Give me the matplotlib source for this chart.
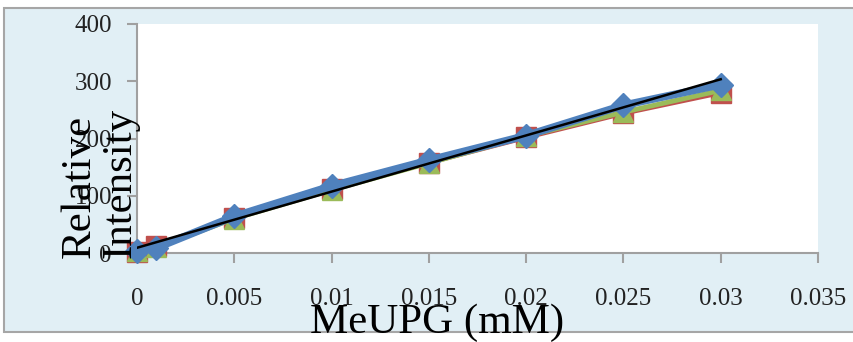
import matplotlib
matplotlib.use("Agg")
import matplotlib.pyplot as plt
import numpy as np
from matplotlib.patches import Rectangle

# MeUPG concentration (mM) and relative intensity of three replicate runs
conc = [0, 0.001, 0.005, 0.01, 0.015, 0.02, 0.025, 0.03]
run_red = [2, 12, 62, 112, 158, 202, 244, 280]
run_green = [3, 10, 60, 110, 157, 204, 246, 284]
run_blue = [4, 9, 64, 117, 162, 205, 258, 294]

x_ticks = [0, 0.005, 0.01, 0.015, 0.02, 0.025, 0.03, 0.035]
x_tick_labels = ["0", "0.005", "0.01", "0.015", "0.02", "0.025", "0.03", "0.035"]
y_ticks = [0, 100, 200, 300, 400]

plt.rcParams["font.family"] = ["Liberation Serif", "DejaVu Serif"]

fig = plt.figure(figsize=(8.54, 3.42), dpi=100)
fig.patch.set_facecolor("white")

# light blue chart area with grey border
fig.patches.append(Rectangle((4 / 854, 1 - 332 / 342), 1.0, (332 - 8) / 342,
                             transform=fig.transFigure, facecolor="#E1EFF5",
                             edgecolor="#A6A6A6", linewidth=1.5, zorder=-1))

ax = fig.add_axes([137 / 854, 1 - 253 / 342, (818 - 137) / 854, (253 - 24) / 342])
ax.set_facecolor("white")

ax.plot(conc, run_red, color="#C0504D", lw=3.5, marker="s", ms=14,
        zorder=3, clip_on=False)
ax.plot(conc, run_green, color="#9BBB59", lw=3.5, marker="^", ms=15,
        zorder=4, clip_on=False)
ax.plot(conc, run_blue, color="#4F81BD", lw=5.5, marker="D", ms=12,
        zorder=5, clip_on=False)

# linear trendline
slope, intercept = np.polyfit(conc, run_blue, 1)
fit_x = np.array([conc[0], conc[-1]])
ax.plot(fit_x, slope * fit_x + intercept, color="black", lw=1.8, zorder=6)

ax.set_xlim(0, 0.035)
ax.set_ylim(0, 400)
ax.set_xticks(x_ticks)
ax.set_xticklabels(x_tick_labels)
ax.set_yticks(y_ticks)

for s in ["top", "right"]:
    ax.spines[s].set_visible(False)
for s in ["left", "bottom"]:
    ax.spines[s].set_color("#A0A0A0")
    ax.spines[s].set_linewidth(1.5)

ax.tick_params(axis="both", colors="#A0A0A0", labelcolor="#222222",
               labelsize=18, length=7, width=1.5)
ax.tick_params(axis="x", direction="out", pad=18)
ax.tick_params(axis="y", direction="out", pad=11)

fig.text(437 / 854, 1 - 333 / 342, "MeUPG (mM)", fontsize=31,
         ha="center", va="baseline")
fig.text(100 / 854, 1 - 258 / 342, "Relative\nIntensity", fontsize=31,
         rotation=90, ha="center", va="bottom", multialignment="left",
         linespacing=1.1)

fig.savefig("out.png", dpi=100)
